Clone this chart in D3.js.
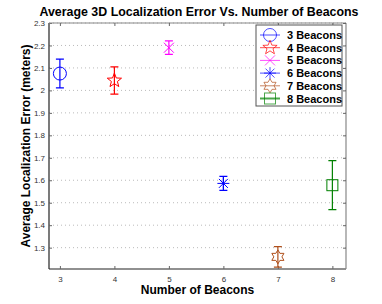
<!DOCTYPE html>
<html>
<head>
<meta charset="utf-8">
<script src="https://cdn.jsdelivr.net/npm/d3@7"></script>
<style>
  body { margin: 0; background: #fff; }
  svg { font-family: "Liberation Sans", Arial, sans-serif; }
  .grid line { stroke: #bbb; stroke-dasharray: 1,3; }
  .tick text { fill: #333; font-size: 8px; }
</style>
</head>
<body>
<svg id="chart" width="382" height="304"></svg>
<script>
const beacons = [3, 4, 5, 6, 7, 8];
const meanError = [2.075, 2.044, 2.19, 1.586, 1.259, 1.578];
const errHalf = [0.064, 0.061, 0.03, 0.031, 0.046, 0.109];
const seriesLabels = ['3 Beacons', '4 Beacons', '5 Beacons', '6 Beacons', '7 Beacons', '8 Beacons'];
const seriesColors = ['#0000ff', '#ff0000', '#ff00ff', '#0000ff', '#b0501c', '#008000'];
const markerKinds = ['circle', 'star5', 'x', 'asterisk', 'star6', 'square'];
const yTicks = [1.3, 1.4, 1.5, 1.6, 1.7, 1.8, 1.9, 2, 2.1, 2.2, 2.3];

const margin = { top: 23, right: 36, bottom: 35, left: 49 };
const svg = d3.select('#chart');
const width = 382 - margin.left - margin.right;
const height = 304 - margin.top - margin.bottom;

const x = d3.scaleLinear().domain([2.8, 8.25]).range([0, width]);
const y = d3.scaleLinear().domain([1.205, 2.3]).range([height, 0]);

const g = svg.append('g').attr('transform', `translate(${margin.left},${margin.top})`);

// dotted grid at y ticks
g.append('g')
  .attr('class', 'grid')
  .selectAll('line')
  .data(yTicks)
  .enter()
  .append('line')
  .attr('x1', 0)
  .attr('x2', width)
  .attr('y1', d => y(d))
  .attr('y2', d => y(d));

// axes
const fmt = d => (d === 2 ? '2' : d3.format('.1f')(d));
const xAxis = g.append('g')
  .attr('transform', `translate(0,${height})`)
  .call(d3.axisBottom(x).tickValues(beacons).tickSize(-3).tickPadding(7).tickFormat(d3.format('d')));
const yAxis = g.append('g')
  .call(d3.axisLeft(y).tickValues(yTicks).tickSize(-3).tickPadding(4).tickFormat(fmt));
const xTop = g.append('g')
  .call(d3.axisTop(x).tickValues(beacons).tickSize(-3).tickFormat(''));
const yRight = g.append('g')
  .attr('transform', `translate(${width},0)`)
  .call(d3.axisRight(y).tickValues(yTicks).tickSize(-3).tickFormat(''));

[xAxis, yAxis].forEach(a => {
  a.select('.domain').attr('stroke', '#222').attr('stroke-width', 1.2);
  a.selectAll('.tick line').attr('stroke', '#666');
});
[xTop, yRight].forEach(a => {
  a.select('.domain').attr('stroke', '#888').attr('stroke-width', 1.2);
  a.selectAll('.tick line').attr('stroke', '#666');
});
xAxis.select('.domain').attr('d', `M0,0H${width}`);
yAxis.select('.domain').attr('d', `M0,0V${height}`);
xTop.select('.domain').attr('d', `M0,0H${width}`);
yRight.select('.domain').attr('d', `M0,0V${height}`);

function starPath(r, n, inner) {
  const pts = [];
  for (let i = 0; i < n * 2; i++) {
    const a = -Math.PI / 2 + i * Math.PI / n;
    const rr = i % 2 === 0 ? r : r * inner;
    pts.push([rr * Math.cos(a), rr * Math.sin(a)]);
  }
  return 'M' + pts.map(p => p.join(',')).join('L') + 'Z';
}

function drawMarker(sel, kind, color) {
  const s = sel.append('g').attr('fill', 'none').attr('stroke', color).attr('stroke-width', 1);
  if (kind === 'circle') {
    s.append('circle').attr('r', 6.5);
  } else if (kind === 'star5') {
    s.append('path').attr('d', starPath(7.5, 5, 0.42));
  } else if (kind === 'x') {
    s.append('path').attr('d', 'M-5,-5L5,5M-5,5L5,-5');
  } else if (kind === 'asterisk') {
    s.append('path').attr('d', 'M0,-6V6M-6,0H6M-4.5,-4.5L4.5,4.5M-4.5,4.5L4.5,-4.5');
  } else if (kind === 'star6') {
    s.append('path').attr('d', starPath(7, 6, 0.58));
  } else if (kind === 'square') {
    s.append('rect').attr('x', -5.5).attr('y', -5.5).attr('width', 11).attr('height', 11);
  }
  return s;
}

const points = beacons.map((b, i) => ({
  b, m: meanError[i], e: errHalf[i], color: seriesColors[i], kind: markerKinds[i], label: seriesLabels[i],
}));

const pt = g.selectAll('g.point')
  .data(points)
  .enter()
  .append('g')
  .attr('class', 'point');

pt.append('path')
  .attr('fill', 'none')
  .attr('stroke', d => d.color)
  .attr('stroke-width', 1.2)
  .attr('d', d => {
    const cx = x(d.b), t = y(d.m + d.e), bt = y(d.m - d.e);
    return `M${cx},${t}V${bt}M${cx - 4},${t}H${cx + 4}M${cx - 4},${bt}H${cx + 4}`;
  });

pt.each(function (d) {
  drawMarker(d3.select(this), d.kind, d.color)
    .attr('transform', `translate(${x(d.b)},${y(d.m)})`);
});

// legend
const legend = svg.append('g').attr('transform', 'translate(256,25)');
legend.append('rect')
  .attr('width', 86)
  .attr('height', 81)
  .attr('fill', '#fff')
  .attr('stroke', '#555')
  .attr('stroke-width', 1);
const item = legend.selectAll('g.item')
  .data(points)
  .enter()
  .append('g')
  .attr('class', 'item')
  .attr('transform', (d, i) => `translate(0,${10 + i * 12.7})`);
item.append('line')
  .attr('x1', 4).attr('x2', 24)
  .attr('stroke', d => d.color)
  .attr('stroke-opacity', 0.7)
  .attr('stroke-width', d => d.kind === 'square' ? 2 : 1);
item.each(function (d) {
  drawMarker(d3.select(this), d.kind, d.color)
    .attr('transform', 'translate(14,0)')
    .attr('stroke-opacity', 0.7);
});
item.append('text')
  .attr('x', 31)
  .attr('y', 4)
  .style('font-size', '11px')
  .style('font-weight', 'bold')
  .text(d => d.label);

// titles
svg.append('text')
  .attr('x', 199)
  .attr('y', 16)
  .style('text-anchor', 'middle')
  .style('font-size', '12.4px')
  .style('font-weight', 'bold')
  .text('Average 3D Localization Error Vs. Number of Beacons');
svg.append('text')
  .attr('x', margin.left + width / 2)
  .attr('y', 294)
  .style('text-anchor', 'middle')
  .style('font-size', '12px')
  .style('font-weight', 'bold')
  .text('Number of Beacons');
svg.append('text')
  .attr('transform', `translate(30,${margin.top + height / 2}) rotate(-90)`)
  .style('text-anchor', 'middle')
  .style('font-size', '12px')
  .style('font-weight', 'bold')
  .text('Average Localization Error (meters)');
</script>
</body>
</html>
